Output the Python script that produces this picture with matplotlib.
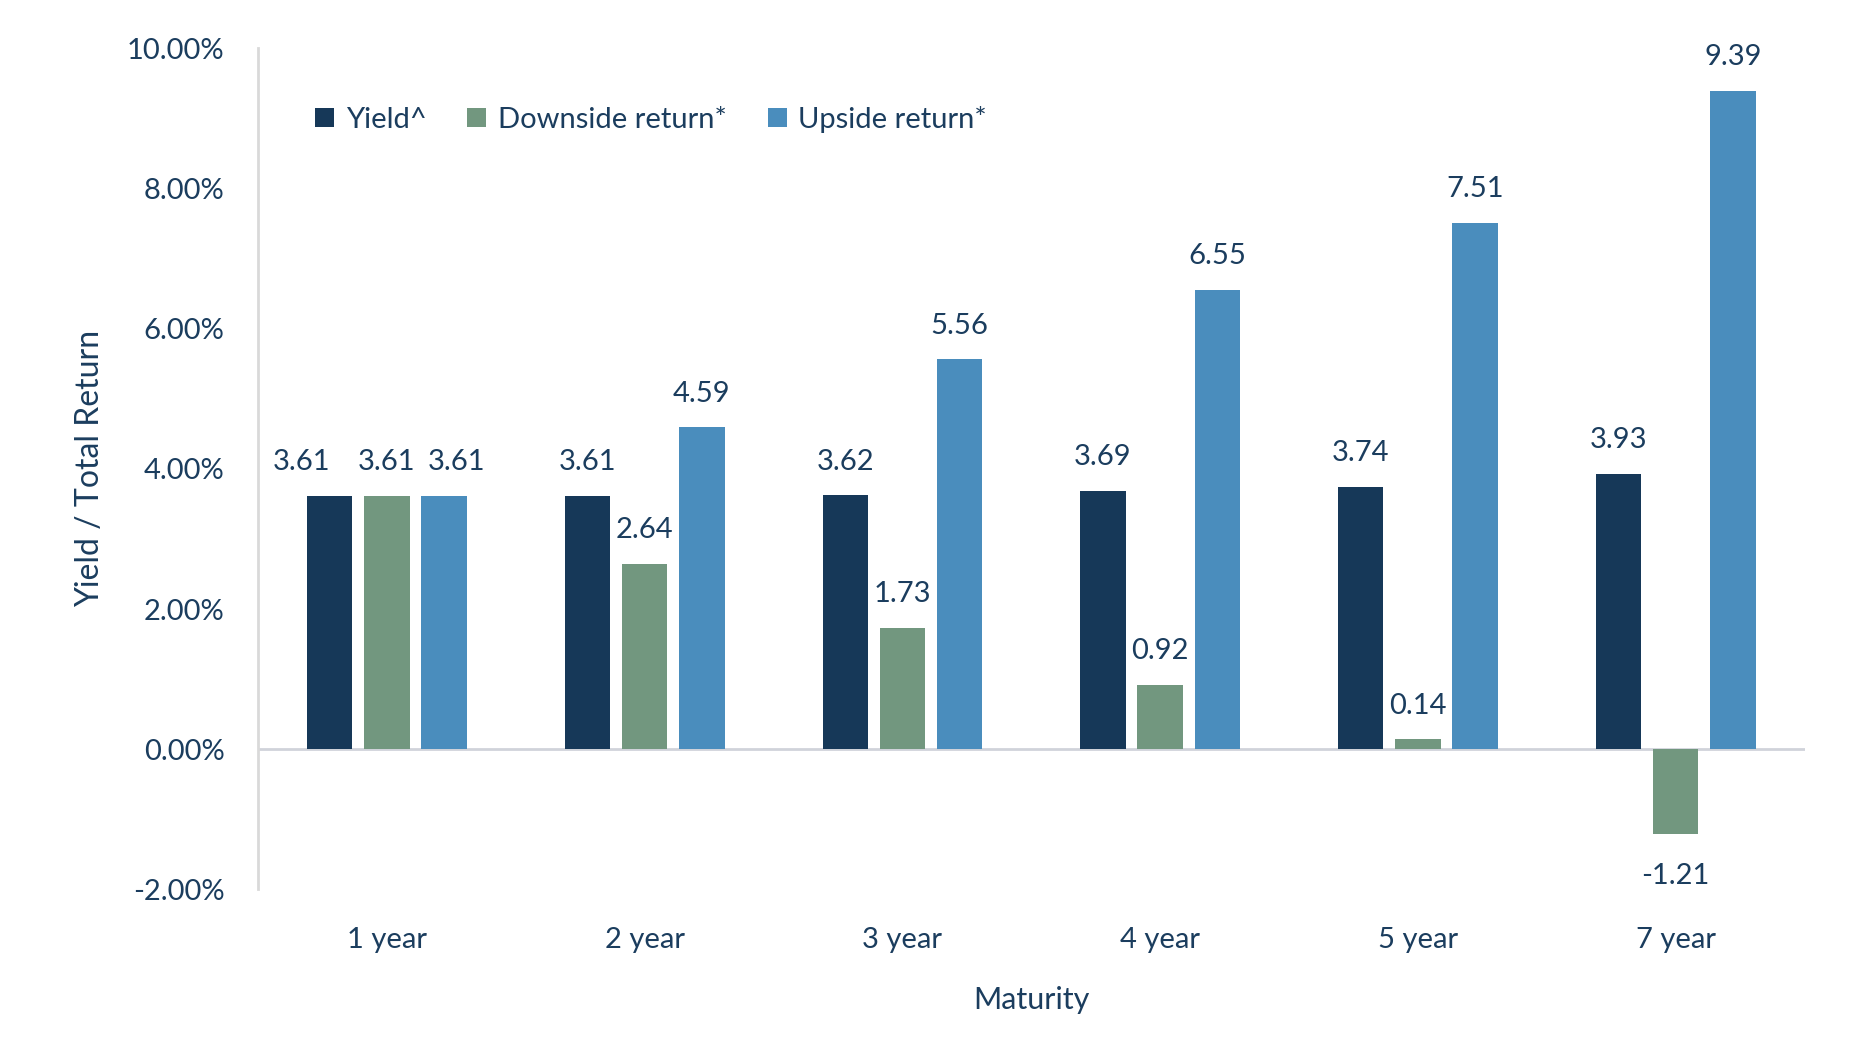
import matplotlib.pyplot as plt
import numpy as np

maturities = ['1 year', '2 year', '3 year', '4 year', '5 year', '7 year']
yield_vals = [3.61, 3.61, 3.62, 3.69, 3.74, 3.93]
downside = [3.61, 2.64, 1.73, 0.92, 0.14, -1.21]
upside = [3.61, 4.59, 5.56, 6.55, 7.51, 9.39]
yticks = [-2, 0, 2, 4, 6, 8, 10]

text_color = '#1b3d5e'
colors = ['#163858', '#72977f', '#4a8dbd']
names = ['Yield^', 'Downside return*', 'Upside return*']

plt.rcParams['font.family'] = ['Lato', 'DejaVu Sans']

fig = plt.figure(figsize=(18.7, 10.5), dpi=100)
ax = fig.add_axes([0.138, 0.153, 0.827, 0.801])

x = np.arange(len(maturities))
width = 0.176
offset = 0.222
series = [yield_vals, downside, upside]

# label nudges for the crowded 1 year group (points)
nudge = {(0, 0): -20, (0, 2): 9}

for i, (vals, c, name) in enumerate(zip(series, colors, names)):
    pos = x + (i - 1) * offset
    ax.bar(pos, vals, width=width, color=c, label=name, zorder=2)
    for j, (p, v) in enumerate(zip(pos, vals)):
        dx = nudge.get((j, i), 0)
        if v >= 0:
            ax.annotate(f'{v:.2f}', (p, v), xytext=(dx, 15), textcoords='offset points',
                        ha='center', va='bottom', fontsize=21, color=text_color)
        else:
            ax.annotate(f'{v:.2f}', (p, v), xytext=(dx, -21), textcoords='offset points',
                        ha='center', va='top', fontsize=21, color=text_color)

ax.axhline(0, color='#d0d3da', lw=2, zorder=1)
ax.set_xlim(-0.5, len(maturities) - 0.5)
ax.set_ylim(-2, 10)
ax.set_yticks(yticks)
ax.set_yticklabels([f'{t:.2f}%' for t in yticks])
ax.set_xticks(x)
ax.set_xticklabels(maturities)
ax.tick_params(length=0, labelsize=21, colors=text_color)
ax.tick_params(axis='y', pad=24)
ax.tick_params(axis='x', pad=27)

for s in ['top', 'right', 'bottom']:
    ax.spines[s].set_visible(False)
ax.spines['left'].set_color('#d9d9d9')
ax.spines['left'].set_linewidth(2)

ax.set_xlabel('Maturity', fontsize=22, color=text_color, labelpad=24)
ax.set_ylabel('Yield / Total Return', fontsize=23, color=text_color, labelpad=16)

leg = ax.legend(loc='upper left', bbox_to_anchor=(0.02, 0.963), ncol=3, frameon=False,
                fontsize=21, handlelength=0.65, handleheight=0.65, handletextpad=0.4,
                columnspacing=1.4)
for t in leg.get_texts():
    t.set_color(text_color)

fig.savefig('out.png', dpi=100)
